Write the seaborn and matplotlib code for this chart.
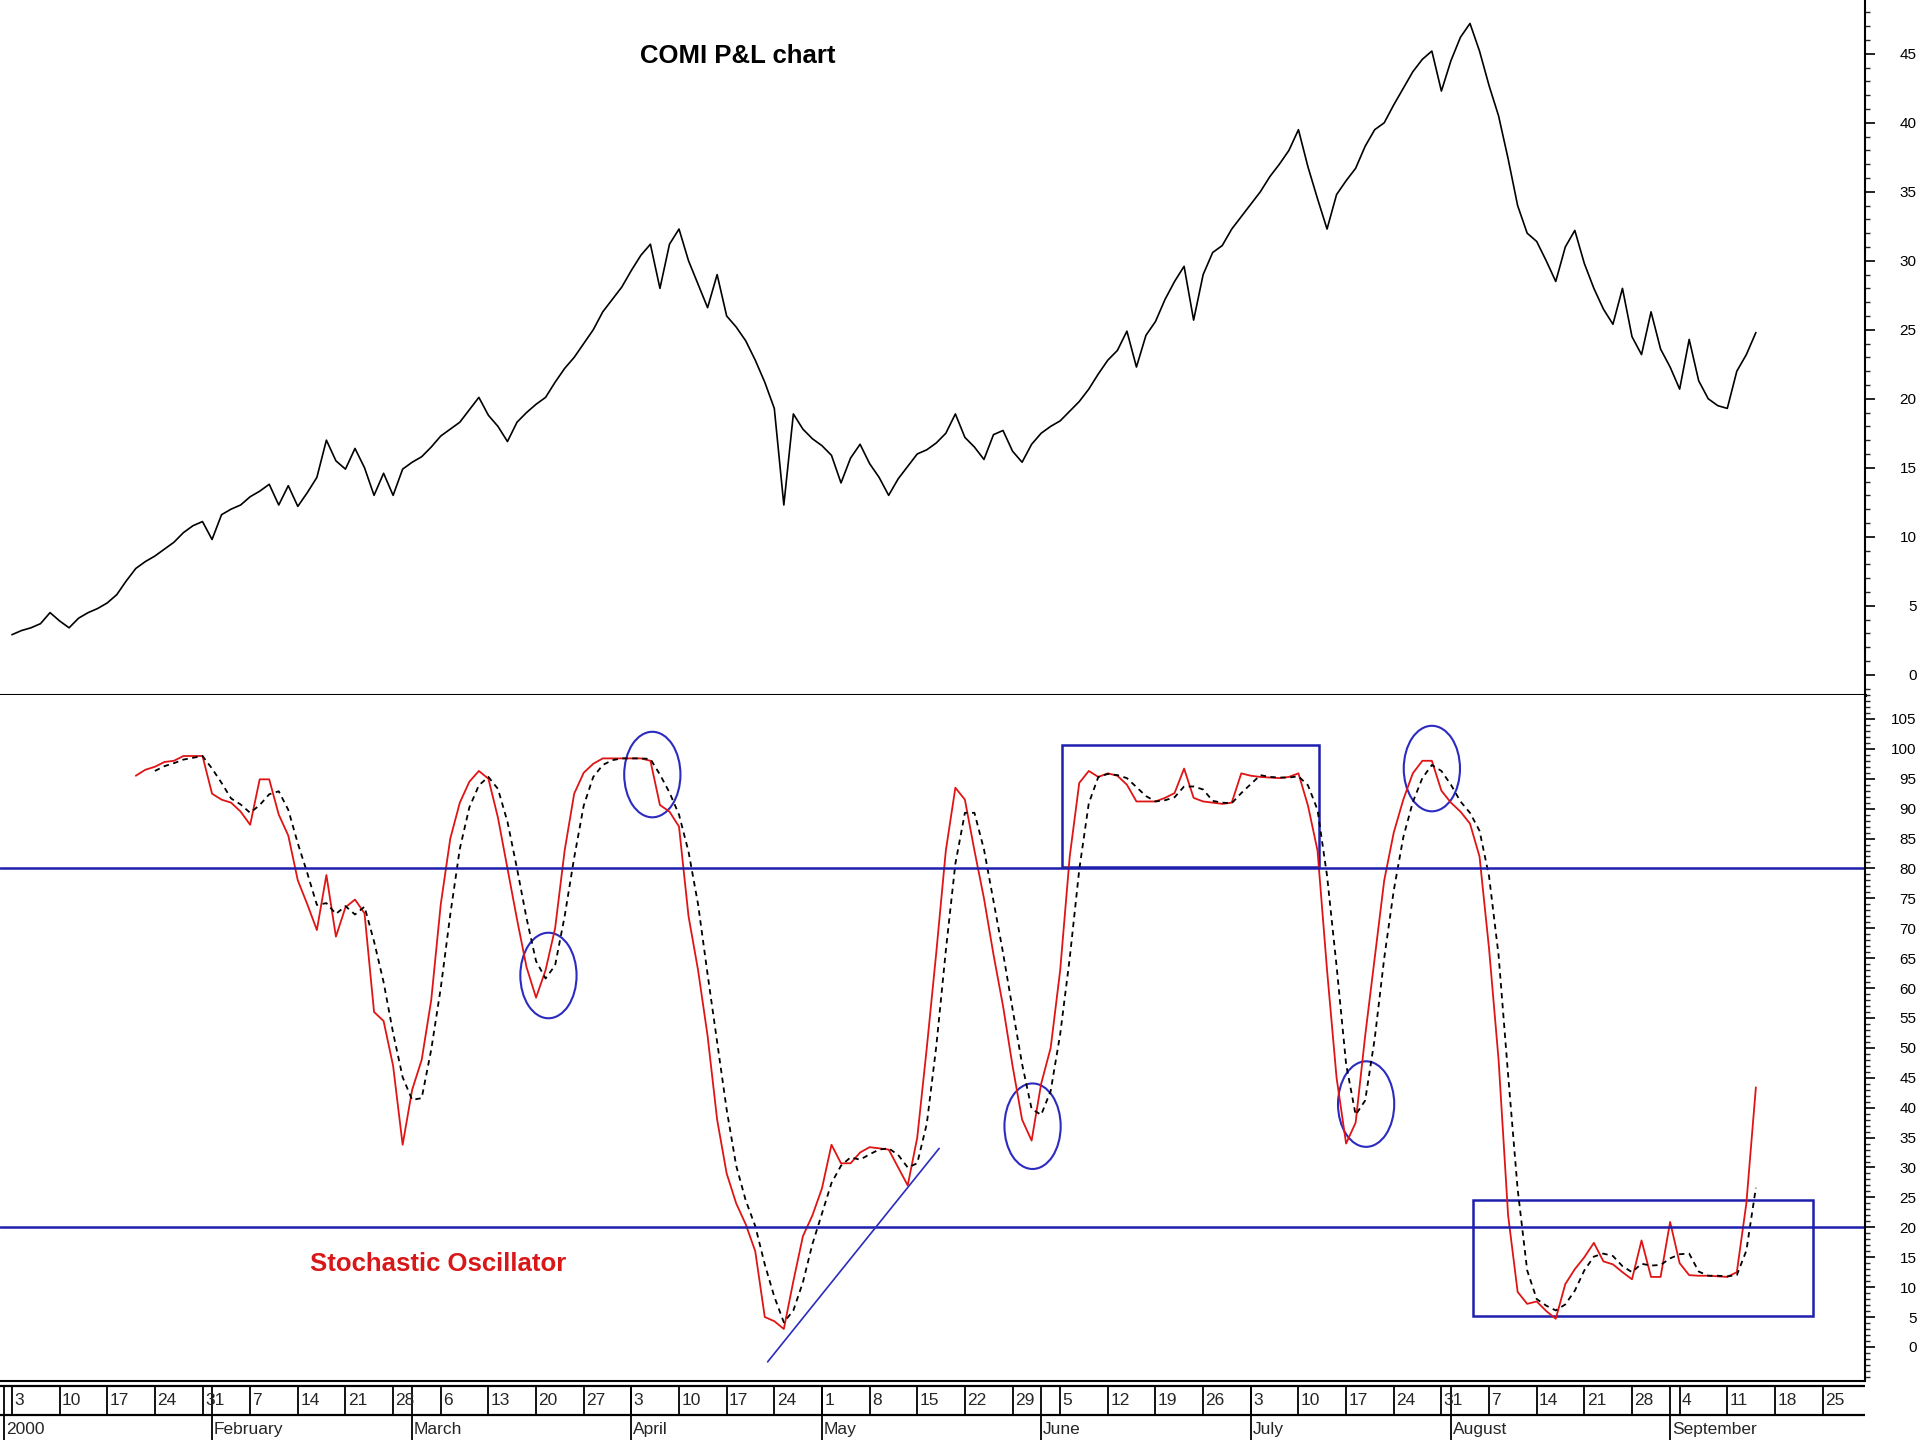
import numpy as np
import pandas as pd
import seaborn as sns
import matplotlib.pyplot as plt
from matplotlib.ticker import MultipleLocator
from matplotlib.patches import Ellipse, Rectangle

# ---- data (trading-day index 0 = 3 Jan 2000) ----
price = [2.9, 3.2, 3.4, 3.7, 4.5, 3.9, 3.4, 4.1, 4.5, 4.8,
         5.2, 5.8, 6.8, 7.7, 8.2, 8.6, 9.1, 9.6, 10.3, 10.8,
         11.1, 9.8, 11.6, 12.0, 12.3, 12.9, 13.3, 13.8, 12.3, 13.7,
         12.2, 13.2, 14.3, 17.0, 15.5, 14.9, 16.4, 15.0, 13.0, 14.6,
         13.0, 14.9, 15.4, 15.8, 16.5, 17.3, 17.8, 18.3, 19.2, 20.1,
         18.8, 18.0, 16.9, 18.3, 19.0, 19.6, 20.1, 21.2, 22.2, 23.0,
         24.0, 25.0, 26.3, 27.2, 28.1, 29.3, 30.4, 31.2, 28.0, 31.2,
         32.3, 30.0, 28.3, 26.6, 29.0, 26.0, 25.2, 24.2, 22.8, 21.2,
         19.3, 12.3, 18.9, 17.8, 17.1, 16.6, 15.9, 13.9, 15.7, 16.7,
         15.3, 14.3, 13.0, 14.2, 15.1, 16.0, 16.3, 16.8, 17.5, 18.9,
         17.2, 16.5, 15.6, 17.4, 17.7, 16.2, 15.4, 16.7, 17.5, 18.0,
         18.4, 19.1, 19.8, 20.7, 21.8, 22.8, 23.5, 24.9, 22.3, 24.6,
         25.6, 27.2, 28.5, 29.6, 25.7, 29.0, 30.6, 31.1, 32.3, 33.2,
         34.1, 35.0, 36.1, 37.0, 38.0, 39.5, 36.8, 34.5, 32.3, 34.8,
         35.8, 36.7, 38.3, 39.5, 40.0, 41.3, 42.5, 43.7, 44.6, 45.2,
         42.3, 44.5, 46.2, 47.2, 45.2, 42.7, 40.5, 37.4, 34.0, 32.0,
         31.4, 30.0, 28.5, 31.0, 32.2, 29.8, 28.0, 26.5, 25.4, 28.0,
         24.5, 23.2, 26.3, 23.6, 22.3, 20.7, 24.3, 21.3, 20.0, 19.5,
         19.3, 22.0, 23.2, 24.8]

k_start = 13
stoch_k = [95.5, 96.5, 97.0, 97.8, 98.0, 98.8, 98.8, 98.8, 92.5, 91.5,
           91.0, 89.5, 87.3, 94.9, 94.9, 89.0, 85.5, 78.0, 74.0, 69.7,
           78.9, 68.6, 73.5, 74.8, 72.5, 56.0, 54.5, 47.0, 33.8, 43.0,
           48.0, 58.0, 74.0, 85.0, 91.0, 94.5, 96.3, 95.0, 88.5, 80.0,
           71.5, 63.5, 58.4, 63.0, 70.0, 83.0, 92.5, 96.0, 97.5, 98.4,
           98.4, 98.4, 98.4, 98.4, 98.0, 90.6, 89.5, 87.0, 72.0, 63.0,
           52.0, 38.0, 29.0, 24.0, 20.5, 16.0, 5.0, 4.3, 3.0, 11.0,
           18.5, 22.0, 26.5, 33.8, 30.7, 30.7, 32.5, 33.4, 33.2, 33.0,
           30.0, 27.0, 35.0, 50.0, 66.0, 83.0, 93.5, 91.5, 83.0, 75.0,
           65.6, 57.0, 47.0, 38.0, 34.5, 44.0, 50.0, 63.0, 82.0, 94.3,
           96.3, 95.3, 95.9, 95.5, 94.0, 91.2, 91.2, 91.2, 91.8, 92.6,
           96.7, 91.8, 91.2, 91.0, 90.8, 91.0, 95.9, 95.5, 95.3, 95.2,
           95.1, 95.3, 95.9, 90.5, 83.0, 63.0, 45.0, 34.0, 37.5, 52.0,
           65.0, 78.0, 86.0, 91.5, 95.9, 98.0, 98.0, 93.0, 91.0, 89.5,
           87.5, 82.0, 66.6, 48.0, 22.0, 9.2, 7.2, 7.6, 6.0, 4.7,
           10.5, 13.0, 15.0, 17.4, 14.3, 13.8, 12.5, 11.3, 17.8, 11.7,
           11.7, 20.9, 14.0, 12.0, 11.9, 11.9, 11.8, 11.7, 12.5, 24.0,
           43.4]

d_start = 15
stoch_d = [96.3, 97.1, 97.6, 98.2, 98.5, 98.8, 96.7, 94.3, 91.7, 90.7,
           89.3, 90.6, 92.4, 92.9, 89.8, 84.2, 79.2, 73.9, 74.2, 72.4,
           73.7, 72.3, 73.6, 67.8, 61.0, 52.5, 45.1, 41.3, 41.6, 49.7,
           60.0, 72.3, 83.3, 90.2, 93.9, 95.3, 93.3, 87.8, 80.0, 71.7,
           64.5, 61.6, 63.8, 72.0, 81.8, 90.5, 95.3, 97.3, 98.1, 98.4,
           98.4, 98.4, 98.3, 95.7, 92.7, 89.0, 82.8, 74.0, 62.3, 51.0,
           39.7, 30.3, 24.5, 20.2, 13.8, 8.4, 4.1, 6.1, 10.8, 17.2,
           22.3, 27.4, 30.3, 31.7, 31.3, 32.2, 33.0, 33.2, 32.1, 30.0,
           30.7, 37.3, 50.3, 66.3, 80.8, 89.3, 89.3, 83.2, 74.5, 65.9,
           56.5, 47.3, 39.8, 38.8, 42.8, 52.3, 65.0, 79.8, 90.9, 95.3,
           95.8, 95.6, 95.1, 93.6, 92.1, 91.2, 91.4, 91.9, 93.7, 93.7,
           93.2, 91.3, 91.0, 90.9, 92.6, 94.1, 95.6, 95.3, 95.2, 95.2,
           95.4, 93.9, 89.8, 78.8, 63.7, 47.3, 38.8, 41.2, 51.5, 65.0,
           76.3, 85.2, 91.1, 95.1, 97.3, 96.3, 94.0, 91.2, 89.3, 86.3,
           78.7, 65.5, 45.5, 26.4, 12.8, 8.0, 6.9, 6.1, 7.1, 9.4,
           12.8, 15.1, 15.6, 15.2, 13.5, 12.5, 13.9, 13.6, 13.7, 14.8,
           15.5, 15.6, 12.6, 11.9, 11.9, 11.8, 12.0, 16.1, 26.6]

month_names = ['2000', 'February', 'March', 'April', 'May', 'June',
               'July', 'August', 'September']

# annotations (index, value)
circle_centers = [(56.3, 62.1), (67.2, 95.7), (107.1, 36.9), (142.1, 40.6), (149.0, 96.7)]
circle_size = (5.9, 14.3)
boxes = [(110.2, 80.3, 137.2, 100.6), (153.3, 5.1, 189.0, 24.6)]
trend_line = ([79.3, 97.3], [-2.5, 33.2])

days = pd.bdate_range('2000-01-03', '2000-09-29')
x_lim = (-1.25, 194.45)

sns.set_style('white')
plt.rcParams['font.family'] = ['Liberation Sans Narrow', 'Liberation Sans', 'DejaVu Sans']

fig = plt.figure(figsize=(19.2, 14.4), dpi=100)
R = 1865 / 1920
ax1 = fig.add_axes([0, 1 - 695 / 1440, R, 695 / 1440])
ax2 = fig.add_axes([0, 1 - 1381 / 1440, R, (1381 - 695) / 1440])
ax3 = fig.add_axes([0, 0, R, 1 - 1381 / 1440])

# price panel
sns.lineplot(x=np.arange(len(price)), y=price, ax=ax1, color='black',
             lw=1.2, estimator=None, sort=False, legend=False)
ax1.set_ylim(-1.47, 48.9)
ax1.set_yticks(range(0, 50, 5))
ax1.text(0.3957, 0.919, 'COMI P&L chart', transform=ax1.transAxes,
         ha='center', va='center', fontsize=18.5, fontweight='bold', color='black')

# stochastic panel
sns.lineplot(x=np.arange(k_start, k_start + len(stoch_k)), y=stoch_k, ax=ax2,
             color='#e01414', lw=1.3, estimator=None, sort=False, legend=False)
sns.lineplot(x=np.arange(d_start, d_start + len(stoch_d)), y=stoch_d, ax=ax2,
             color='black', lw=1.3, linestyle=(0, (3, 2.5)),
             estimator=None, sort=False, legend=False)
ax2.set_ylim(-5.7, 109.0)
ax2.set_yticks(range(0, 110, 5))
blue = '#1f1fae'
ax2.axhline(80, color=blue, lw=1.8)
ax2.axhline(20, color=blue, lw=1.8)
for cx, cy in circle_centers:
    ax2.add_patch(Ellipse((cx, cy), circle_size[0], circle_size[1], fill=False,
                          edgecolor='#2b2bc0', lw=1.5))
for x0, y0, x1, y1 in boxes:
    ax2.add_patch(Rectangle((x0, y0), x1 - x0, y1 - y0, fill=False,
                            edgecolor=blue, lw=1.8))
ax2.plot(trend_line[0], trend_line[1], color='#2b2bc0', lw=1.2)
ax2.text(44.7, 13.9, 'Stochastic Oscillator', color='#d81818', fontsize=18.5,
         fontweight='bold', ha='center', va='center')

for ax in (ax1, ax2):
    ax.set_xlim(*x_lim)
    ax.set_xticks([])
    ax.set_xlabel('')
    ax.set_ylabel('')
    ax.yaxis.tick_right()
    ax.yaxis.set_minor_locator(MultipleLocator(1))
    ax.tick_params(axis='y', which='major', direction='out', length=7, width=1.2,
                   pad=30, labelsize=11, colors='black', right=True, left=False)
    ax.tick_params(axis='y', which='minor', direction='out', length=3.5, width=1,
                   right=True, left=False)
    for lab in ax.get_yticklabels():
        lab.set_horizontalalignment('right')
    ax.spines['left'].set_visible(False)
    ax.spines['top'].set_visible(False)
    ax.spines['right'].set_color('black')
    ax.spines['right'].set_linewidth(1.5)
    ax.spines['bottom'].set_color('black')
    ax.set_facecolor('white')
ax1.spines['bottom'].set_linewidth(2.2)
ax2.spines['bottom'].set_linewidth(1.5)

# date axis
ax3.set_xlim(*x_lim)
ax3.set_ylim(0, 1)
ax3.axis('off')
ax3.hlines([0.92, 0.424], x_lim[0], x_lim[1], color='black', lw=1.6)
for i, d in enumerate(days):
    if d.weekday() == 0:
        ax3.vlines(i, 0.424, 0.92, color='black', lw=1.3)
        ax3.text(i + 0.25, 0.67, str(d.day), fontsize=12.5, ha='left', va='center')
month_starts = [i for i in range(len(days)) if i == 0 or days[i].month != days[i - 1].month]
month_starts[0] = -0.8
for ms, name in zip(month_starts, month_names):
    ax3.vlines(ms, 0, 0.92, color='black', lw=1.3)
    ax3.text(ms + 0.2, 0.17, name, fontsize=12.5, ha='left', va='center')

fig.savefig('out.png', dpi=100, facecolor='white')
